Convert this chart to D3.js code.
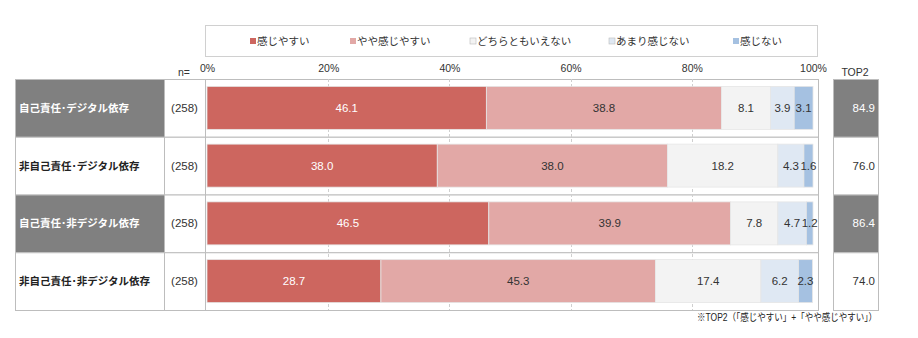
<!DOCTYPE html>
<html><head><meta charset="utf-8">
<script src="https://cdn.jsdelivr.net/npm/d3@7"></script>
<style>
body{margin:0;background:#fff;}
svg text{font-family:"Liberation Sans","Noto Sans CJK JP",sans-serif;}
</style></head>
<body><svg id="c" width="918" height="338"></svg>
<script>
const categories = ["自己責任･デジタル依存","非自己責任･デジタル依存","自己責任･非デジタル依存","非自己責任･非デジタル依存"];
const nValues = [258,258,258,258];
const seriesNames = ["感じやすい","やや感じやすい","どちらともいえない","あまり感じない","感じない"];
const s1 = [46.1,38.0,46.5,28.7];
const s2 = [38.8,38.0,39.9,45.3];
const s3 = [8.1,18.2,7.8,17.4];
const s4 = [3.9,4.3,4.7,6.2];
const s5 = [3.1,1.6,1.2,2.3];
const top2 = [84.9,76.0,86.4,74.0];
const highlighted = [true,false,true,false];
const ticks = [0,20,40,60,80,100];
const colors = ["#CD665F","#E2A8A6","#F3F3F3","#DFE8F3","#A5C1E1"];
const textColors = ["#ffffff","#333333","#333333","#333333","#333333"];
const footnote = "※TOP2（「感じやすい」+「やや感じやすい」）";

const series = [s1,s2,s3,s4,s5];
const svg = d3.select("#c");
const font = "Liberation Sans, Noto Sans CJK JP, sans-serif";

const x = d3.scaleLinear().domain([0,100]).range([207,813]);
const y = d3.scaleBand().domain(categories).range([79,310]).padding(0);
const barH = 43;

// legend box
svg.append("rect").attr("x",205.5).attr("y",25.5).attr("width",612).attr("height",31)
  .attr("fill","#fff").attr("stroke","#d0d0d0");
const legendX = [250,350,470,609,733];
seriesNames.forEach((n,i)=>{
  const g = svg.append("g").attr("transform",`translate(${legendX[i]},41)`);
  g.append("rect").attr("x",0).attr("y",-3).attr("width",6).attr("height",6)
    .attr("fill",colors[i]).attr("stroke",i>=2&&i<4?"#bbb":"none").attr("stroke-width",0.6);
  g.append("text").attr("x",7).attr("y",4).attr("font-size",10.5).attr("fill","#333").text(n);
});

// table cells
const tableLeft = 15, labelRight = 164, nRight = 205, plotRight = 818;
categories.forEach((c,i)=>{
  const y0 = y(c), h = y.bandwidth();
  svg.append("rect").attr("x",tableLeft+0.5).attr("y",y0+0.5).attr("width",labelRight-tableLeft).attr("height",h)
    .attr("fill",highlighted[i]?"#808080":"#fff").attr("stroke","#bdbdbd");
  svg.append("rect").attr("x",labelRight+0.5).attr("y",y0+0.5).attr("width",nRight-labelRight).attr("height",h)
    .attr("fill","#fff").attr("stroke","#bdbdbd");
  svg.append("rect").attr("x",nRight+0.5).attr("y",y0+0.5).attr("width",plotRight-nRight).attr("height",h)
    .attr("fill","#fff").attr("stroke","#bdbdbd");
  svg.append("text").attr("x",19).attr("y",y0+h/2+4).attr("font-size",10.5).attr("font-weight","bold")
    .attr("fill",highlighted[i]?"#fff":"#222").text(c);
  svg.append("text").attr("x",(labelRight+nRight)/2).attr("y",y0+h/2+4).attr("font-size",11.5)
    .attr("text-anchor","middle").attr("fill","#333").text(`(${nValues[i]})`);
  // top2
  svg.append("rect").attr("x",833.5).attr("y",y0+0.5).attr("width",45).attr("height",h)
    .attr("fill",highlighted[i]?"#808080":"#fff").attr("stroke","#bdbdbd");
  svg.append("text").attr("x",875).attr("y",y0+h/2+4).attr("font-size",11.5).attr("text-anchor","end")
    .attr("fill",highlighted[i]?"#fff":"#333").text(top2[i].toFixed(1));
});

// gridlines
svg.append("g").selectAll("line").data(ticks.slice(1,5)).join("line")
  .attr("x1",d=>Math.round(x(d))+0.5).attr("x2",d=>Math.round(x(d))+0.5)
  .attr("y1",79).attr("y2",310).attr("stroke","#cfcfcf").attr("stroke-dasharray","3,2");

// axis
const axis = svg.append("g").attr("transform","translate(0,72)")
  .call(d3.axisTop(x).tickValues(ticks).tickFormat(d=>d+"%").tickSize(0).tickPadding(0));
axis.select(".domain").remove();
axis.selectAll("text").attr("font-size",10.5).attr("fill","#333").style("font-family",font);

svg.append("text").attr("x",184).attr("y",76).attr("font-size",10.5).attr("text-anchor","middle").attr("fill","#333").text("n=");
svg.append("text").attr("x",855).attr("y",76).attr("font-size",10.5).attr("text-anchor","middle").attr("fill","#333").text("TOP2");

// bars
categories.forEach((c,i)=>{
  let cum = 0;
  const yb = y(c) + (y.bandwidth()-barH)/2;
  series.forEach((s,k)=>{
    const v = s[i];
    const x0 = x(cum), x1 = x(Math.min(cum+v,100));
    svg.append("rect").attr("x",x0).attr("y",yb).attr("width",Math.max(0,x1-x0)).attr("height",barH)
      .attr("fill",colors[k]).attr("stroke","#e6e6e6").attr("stroke-width",0.8);
    svg.append("text").attr("x",(x0+x1)/2).attr("y",yb+barH/2+4).attr("font-size",11.5)
      .attr("text-anchor","middle").attr("fill",textColors[k]).text(v.toFixed(1));
    cum += v;
  });
});

svg.append("text").attr("x",877).attr("y",321).attr("font-size",10).attr("text-anchor","end").attr("fill","#222")
  .attr("textLength",180).attr("lengthAdjust","spacingAndGlyphs").text(footnote);
</script></body></html>
